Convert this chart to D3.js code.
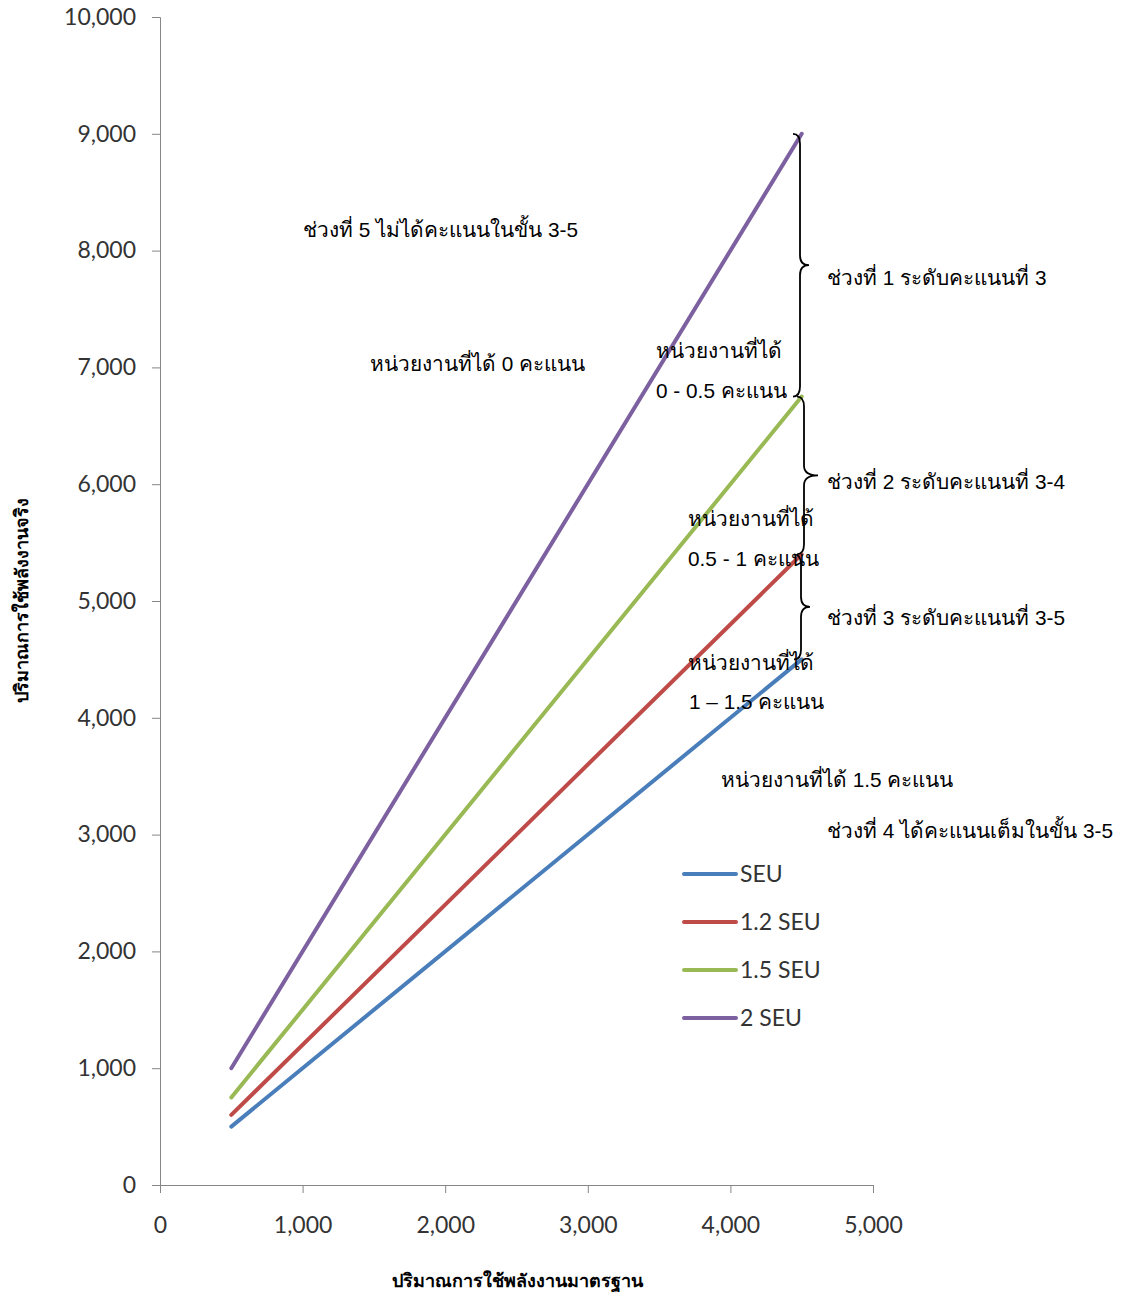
<!DOCTYPE html>
<html>
<head>
<meta charset="utf-8">
<script src="https://cdn.jsdelivr.net/npm/d3@7"></script>
<style>
  body { margin: 0; background: #fff; }
  svg { display: block; }
</style>
</head>
<body>
<div id="chart"></div>
<script>
// ข้อมูลเส้น (x = ปริมาณการใช้พลังงานมาตรฐาน)
const xValues = [500, 4500]
const seriesNames = ['SEU', '1.2 SEU', '1.5 SEU', '2 SEU']
const seriesValues = [
  [500, 4500],
  [600, 5400],
  [750, 6750],
  [1000, 9000]
]
const seriesColors = ['#4a7ebb', '#be4b48', '#98b954', '#7d60a0']
const xTicks = [0, 1000, 2000, 3000, 4000, 5000]
const yTicks = [0, 1000, 2000, 3000, 4000, 5000, 6000, 7000, 8000, 9000, 10000]

// ช่วงวงเล็บปีกกา [y บน, y ล่าง] ที่ x = 4500
const braces = [
  [9000, 6750],
  [6750, 5400],
  [5400, 4500]
]

const W = 1132, H = 1297
const margin = { top: 17, right: 259, bottom: 112, left: 160 }

const svg = d3.select('#chart').append('svg')
  .attr('width', W)
  .attr('height', H)

const x = d3.scaleLinear().domain([0, 5000]).range([margin.left, W - margin.right])
const y = d3.scaleLinear().domain([0, 10000]).range([H - margin.bottom, margin.top])

const tickFont = 'Lato, "Open Sans", sans-serif'
const thaiFont = '"Liberation Sans", Arial, sans-serif'

// แกน X
const gx = svg.append('g')
  .attr('transform', `translate(0,${y(0)})`)
  .call(d3.axisBottom(x).tickValues(xTicks).tickSize(8).tickPadding(24).tickFormat(d3.format(',')))
gx.select('.domain').attr('stroke', '#868686')
gx.selectAll('.tick line').attr('stroke', '#868686')
gx.selectAll('.tick text')
  .style('font-family', tickFont)
  .style('font-size', '23px')
  .attr('fill', '#333')

// แกน Y
const gy = svg.append('g')
  .attr('transform', `translate(${x(0)},0)`)
  .call(d3.axisLeft(y).tickValues(yTicks).tickSize(8).tickPadding(16).tickFormat(d3.format(',')))
gy.select('.domain').attr('stroke', '#868686')
gy.selectAll('.tick line').attr('stroke', '#868686')
gy.selectAll('.tick text')
  .style('font-family', tickFont)
  .style('font-size', '23px')
  .attr('fill', '#333')

// ชื่อแกน
svg.append('text')
  .attr('x', 517).attr('y', 1287)
  .attr('text-anchor', 'middle')
  .style('font-family', thaiFont)
  .style('font-size', '18px')
  .style('font-weight', 'bold')
  .text('ปริมาณการใช้พลังงานมาตรฐาน')

svg.append('text')
  .attr('transform', 'translate(28,600) rotate(-90)')
  .attr('text-anchor', 'middle')
  .style('font-family', thaiFont)
  .style('font-size', '18px')
  .style('font-weight', 'bold')
  .text('ปริมาณการใช้พลังงานจริง')

// เส้นข้อมูล
const line = d3.line()
  .x((d, i) => x(xValues[i]))
  .y(d => y(d))

svg.append('g').selectAll('path')
  .data(seriesValues.slice().reverse())
  .join('path')
  .attr('d', d => line(d))
  .attr('fill', 'none')
  .attr('stroke', (d, i) => seriesColors[seriesValues.length - 1 - i])
  .attr('stroke-width', 4)
  .attr('stroke-linecap', 'round')

// วงเล็บปีกกา
function bracePath(x0, y0, y1, w) {
  const ym = (y0 + y1) / 2
  const r = Math.min(10, (y1 - y0) / 6)
  return `M${x0 - 7},${y0}` +
    `C${x0 - 1},${y0} ${x0},${y0 + r / 2} ${x0},${y0 + r}` +
    `L${x0},${ym - r}` +
    `C${x0},${ym - 2} ${x0 + w / 2},${ym} ${x0 + w},${ym}` +
    `C${x0 + w / 2},${ym} ${x0},${ym + 2} ${x0},${ym + r}` +
    `L${x0},${y1 - r}` +
    `C${x0},${y1 - r / 2} ${x0 - 1},${y1} ${x0 - 7},${y1}`
}
const braceX = [800, 804, 801]
const braceW = [9, 14, 9]
svg.append('g').selectAll('path')
  .data(braces)
  .join('path')
  .attr('d', (d, i) => bracePath(braceX[i], y(d[0]), y(d[1]), braceW[i]))
  .attr('fill', 'none')
  .attr('stroke', '#000')
  .attr('stroke-width', 1.8)

// ข้อความกำกับ
const notes = [
  ['ช่วงที่ 5 ไม่ได้คะแนนในขั้น 3-5', 303, 237],
  ['หน่วยงานที่ได้ 0 คะแนน', 370, 371],
  ['หน่วยงานที่ได้', 656, 358],
  ['0 - 0.5 คะแนน', 656, 398],
  ['ช่วงที่ 1 ระดับคะแนนที่ 3', 827, 285],
  ['ช่วงที่ 2 ระดับคะแนนที่ 3-4', 827, 489],
  ['หน่วยงานที่ได้', 688, 526],
  ['0.5 - 1 คะแนน', 688, 566],
  ['ช่วงที่ 3 ระดับคะแนนที่ 3-5', 827, 625],
  ['หน่วยงานที่ได้', 688, 670],
  ['1 – 1.5 คะแนน', 689, 709],
  ['หน่วยงานที่ได้ 1.5 คะแนน', 721, 787],
  ['ช่วงที่ 4 ได้คะแนนเต็มในขั้น 3-5', 827, 838]
]
svg.append('g').selectAll('text')
  .data(notes)
  .join('text')
  .attr('x', d => d[1])
  .attr('y', d => d[2])
  .style('font-family', thaiFont)
  .style('font-size', '20.8px')
  .attr('fill', '#000')
  .text(d => d[0])

// คำอธิบายสัญลักษณ์
const legend = svg.append('g').attr('transform', 'translate(684,874)')
const item = legend.selectAll('g')
  .data(seriesNames)
  .join('g')
  .attr('transform', (d, i) => `translate(0,${i * 48})`)
item.append('line')
  .attr('x1', 0).attr('x2', 52)
  .attr('stroke', (d, i) => seriesColors[i])
  .attr('stroke-width', 4)
  .attr('stroke-linecap', 'round')
item.append('text')
  .attr('x', 56).attr('dy', '0.35em')
  .style('font-family', tickFont)
  .style('font-size', '23px')
  .attr('fill', '#333')
  .text(d => d)
</script>
</body>
</html>
